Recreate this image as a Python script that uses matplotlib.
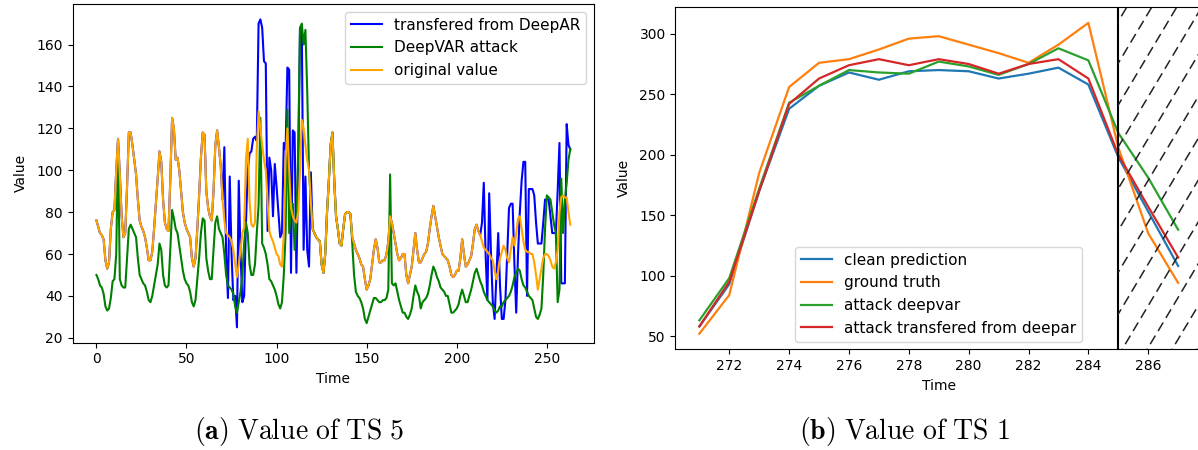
import numpy as np
import matplotlib
matplotlib.use("Agg")
import matplotlib.pyplot as plt

# ---- left panel: TS 5 ----
orig_value = [
    76, 73, 70, 69, 67, 57, 53, 56, 72, 80,
    81, 100, 115, 98, 78, 68, 70, 92, 118, 118,
    112, 105, 98, 86, 76, 73, 71, 68, 63, 57,
    57, 61, 72, 84, 96, 109, 104, 86, 75, 72,
    71, 95, 125, 120, 105, 106, 100, 90, 80, 75,
    72, 70, 68, 58, 54, 58, 72, 88, 106, 118,
    117, 90, 82, 78, 76, 90, 112, 119, 111, 102,
    86, 76, 70, 69, 68, 66, 62, 55, 49, 55,
    62, 70, 73, 105, 115, 85, 74, 73, 75, 110,
    128, 120, 112, 105, 100, 85, 71, 68, 66, 63,
    60, 59, 55, 54, 70, 105, 120, 100, 82, 78,
    76, 75, 80, 100, 124, 120, 112, 105, 100, 85,
    72, 70, 68, 67, 66, 55, 51, 60, 80, 95,
    112, 118, 95, 78, 72, 65, 64, 72, 79, 80,
    80, 79, 68, 65, 62, 60, 58, 55, 54, 48,
    43, 45, 48, 55, 62, 67, 63, 56, 56, 57,
    57, 60, 66, 78, 75, 70, 65, 60, 57, 58,
    60, 60, 50, 46, 50, 54, 62, 70, 62, 56,
    56, 58, 60, 61, 65, 72, 78, 83, 78, 73,
    68, 64, 60, 59, 58, 57, 54, 50, 49, 50,
    52, 52, 58, 67, 60, 54, 55, 57, 59, 65,
    72, 74, 71, 69, 66, 63, 62, 61, 60, 58,
    57, 52, 48, 52, 58, 61, 64, 62, 58, 56,
    62, 68, 64, 70, 77, 78, 72, 66, 62, 61,
    61, 60, 60, 56, 50, 43, 48, 53, 58, 60,
    60, 59, 57, 54, 53, 56, 62, 80, 87, 88,
    87, 87, 80, 74,
]

deepvar_attack = [
    50, 48, 45, 44, 41, 35, 33, 34, 39, 47,
    48, 60, 112, 48, 45, 44, 44, 58, 72, 74,
    72, 70, 68, 58, 50, 48, 46, 45, 42, 38,
    37, 40, 45, 50, 55, 65, 62, 50, 45, 44,
    45, 62, 81, 77, 72, 70, 64, 58, 52, 48,
    46, 45, 42, 37, 35, 38, 48, 58, 70, 77,
    76, 58, 52, 48, 48, 62, 75, 78, 72, 70,
    68, 60, 50, 45, 44, 43, 41, 35, 32, 37,
    42, 50, 65, 75, 70, 55, 50, 50, 55, 70,
    83, 125, 65, 63, 60, 55, 48, 47, 45, 43,
    40, 36, 34, 37, 50, 70, 129, 70, 83, 84,
    62, 75, 110, 168, 170, 160, 167, 138, 100, 85,
    72, 70, 68, 67, 66, 55, 51, 60, 80, 95,
    112, 118, 95, 78, 72, 65, 64, 72, 79, 80,
    80, 79, 65, 50, 42, 40, 39, 37, 34, 29,
    27, 30, 33, 36, 39, 39, 38, 37, 37, 38,
    38, 39, 43, 98, 46, 45, 46, 42, 38, 35,
    32, 32, 30, 29, 31, 34, 40, 45, 42, 40,
    34, 37, 38, 39, 41, 45, 50, 54, 52, 49,
    47, 44, 43, 42, 40, 40, 36, 32, 32, 33,
    34, 36, 40, 43, 40, 37, 37, 40, 43, 47,
    51, 53, 50, 47, 45, 42, 40, 38, 37, 36,
    35, 33, 32, 33, 35, 35, 37, 38, 39, 40,
    42, 45, 49, 51, 53, 52, 48, 45, 44, 42,
    40, 39, 38, 34, 30, 29, 31, 34, 50, 72,
    88, 87, 86, 80, 74, 70, 37, 43, 96, 70,
    86, 94, 105, 110,
]

# transferred attack follows the original value except in two stretches
transfer_mid = [
    111, 60, 39, 97, 60, 38, 40, 25, 95, 60,
    37, 40, 75, 100, 108, 109, 115, 116, 114, 170,
    172, 168, 152, 151, 71, 106, 100, 78, 103, 92,
    80, 68, 70, 113, 110, 149, 148, 51, 119, 118,
    51, 100, 168, 167, 62, 97, 62, 54, 99, 72,
]
transfer_end = [
    75, 94, 60, 38, 89, 60, 37, 29, 50, 70,
    45, 29, 29, 38, 60, 82, 84, 84, 55, 32,
    60, 80, 95, 104, 104, 40, 91, 91, 91, 88,
    75, 65, 65, 65, 75, 86, 86, 86, 78, 70,
    70, 70, 90, 113, 46, 46, 46, 122, 112, 110,
]
transfered = list(orig_value)
transfered[71:121] = transfer_mid
transfered[214:264] = transfer_end
t_left = np.arange(len(orig_value))

# ---- right panel: TS 1 ----
t_right = np.arange(271, 288)
clean_pred = [58, 93, 170, 238, 257, 268, 262, 269, 270, 269, 263, 267, 272, 258, 198, 153, 108]
ground_truth = [52, 84, 185, 256, 276, 279, 287, 296, 298, 291, 284, 276, 291, 309, 206, 135, 94]
attack_deepvar = [63, 98, 172, 243, 257, 270, 268, 267, 277, 273, 266, 275, 288, 278, 218, 181, 138]
attack_transf = [58, 95, 170, 242, 263, 274, 279, 274, 279, 275, 267, 275, 279, 263, 200, 157, 115]
pred_start = 285

fig = plt.figure(figsize=(11.98, 4.5), dpi=100)

ax1 = fig.add_axes([0.0607, 0.2384, 0.4351, 0.7527])
ax1.plot(t_left, transfered, color="blue", lw=1.5, label="transfered from DeepAR")
ax1.plot(t_left, deepvar_attack, color="green", lw=1.5, label="DeepVAR attack")
ax1.plot(t_left, orig_value, color="orange", lw=1.5, label="original value")
ax1.set_xlabel("Time", fontsize=10)
ax1.set_ylabel("Value", fontsize=10, labelpad=6)
ax1.set_yticks(np.arange(20, 161, 20))
ax1.tick_params(labelsize=10)
ax1.legend(loc="upper right", fontsize=11)

ax2 = fig.add_axes([0.5638, 0.2238, 0.4396, 0.76])
ax2.plot(t_right, clean_pred, color="C0", lw=1.6, label="clean prediction")
ax2.plot(t_right, ground_truth, color="C1", lw=1.6, label="ground truth")
ax2.plot(t_right, attack_deepvar, color="C2", lw=1.6, label="attack deepvar")
ax2.plot(t_right, attack_transf, color="C3", lw=1.6, label="attack transfered from deepar")
ax2.axvline(pred_start, color="black", lw=1.5)

# dashed hatching of the forecast window
span = ax2.axvspan(pred_start, 290, facecolor="none", edgecolor="none")
slope = 41.4   # value units per time unit
step = 0.835
for x0 in np.arange(pred_start - 10, 290, step):
    ln, = ax2.plot([x0, x0 + 10], [0, 10 * slope], color="#222222", lw=1.1,
                   dashes=(6.5, 3.5), scalex=False, scaley=False)
    ln.set_clip_path(span)

ax2.set_xlim(270.2, 287.8)
ax2.set_ylim(39.1, 321.9)
ax2.set_xticks(np.arange(272, 287, 2))
ax2.set_xlabel("Time", fontsize=10)
ax2.set_ylabel("Value", fontsize=10, labelpad=6)
ax2.tick_params(labelsize=10)
ax2.legend(loc="lower center", fontsize=11)

plt.rcParams["mathtext.fontset"] = "cm"
fig.text(0.25, 0.04, r"$\mathbf{(a)}\ \mathrm{Value\ of\ TS\ 5}$", ha="center", va="center", fontsize=20)
fig.text(0.755, 0.04, r"$\mathbf{(b)}\ \mathrm{Value\ of\ TS\ 1}$", ha="center", va="center", fontsize=20)

fig.savefig("out.png", dpi=100)
